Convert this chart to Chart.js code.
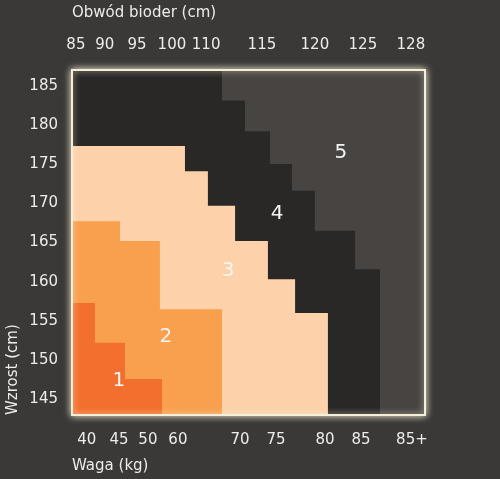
<!DOCTYPE html>
<html>
<head>
<meta charset="utf-8">
<script src="https://cdn.jsdelivr.net/npm/chart.js@4.4.1/dist/chart.umd.min.js"></script>
<style>
  html, body { margin: 0; padding: 0; background: #3b3938; }
  #wrap { width: 500px; height: 479px; }
</style>
</head>
<body>
<div id="wrap"><canvas id="myChart"></canvas></div>
<script>
// top axis: hip circumference, bottom axis: weight (positions on a 0-100 board)
var hipLabels = ['85', '90', '95', '100', '110', '115', '120', '125', '128'];
var hipPos = [1.1, 9.3, 18.4, 28.3, 38, 53.8, 68.8, 82.4, 96];
var weightLabels = ['40', '45', '50', '60', '70', '75', '80', '85', '85+'];
var weightPos = [4.2, 13.3, 21.5, 30, 47.6, 57.8, 71.7, 81.9, 96.3];
var heightTicks = [145, 150, 155, 160, 165, 170, 175, 180, 185];

// stepped upper edges of each zone: [position, height cm]
var zone4 = [[0, 187], [42.5, 183.1], [49, 179.2], [56.1, 175], [62.3, 171.6], [68.8, 166.5], [80.2, 161.6], [87.3, 143]];
var zone3 = [[0, 177.3], [32, 174.1], [38.5, 169.7], [46.2, 165.2], [55.5, 160.3], [63.2, 156], [72.5, 143]];
var zone2 = [[0, 167.7], [13.6, 165.2], [24.9, 156.5], [42.5, 143]];
var zone1 = [[0, 157.3], [6.5, 152.2], [15, 147.6], [25.5, 143]];
var zoneNames = ['1', '2', '3', '4', '5'];
var namePos = [[13.3, 147.4], [26.6, 153.0], [44.2, 161.4], [58.1, 168.6], [76.2, 176.4]];

var txt = '#ececec';
var font = { family: 'DejaVu Sans', size: 15 };

function zone(pts, color, order) {
  return {
    data: pts.map(function(p) { return { x: p[0], y: p[1] }; }),
    stepped: 'before',
    fill: 'start',
    order: order,
    backgroundColor: color,
    borderWidth: 0,
    pointRadius: 0
  };
}

var bgPlugin = {
  id: 'bg',
  beforeDatasetsDraw: function(chart) {
    var a = chart.chartArea, c = chart.ctx;
    c.save();
    c.shadowColor = 'rgba(255,250,220,0.9)';
    c.shadowBlur = 8;
    c.fillStyle = '#474442';
    c.fillRect(a.left, a.top, a.right - a.left, a.bottom - a.top);
    c.restore();
  },
  afterDatasetsDraw: function(chart) {
    var a = chart.chartArea, c = chart.ctx;
    c.save();
    c.strokeStyle = '#f4efd8';
    c.lineWidth = 2;
    c.shadowColor = 'rgba(255,250,220,0.8)';
    c.shadowBlur = 6;
    c.strokeRect(a.left, a.top, a.right - a.left, a.bottom - a.top);
    c.shadowBlur = 0;
    c.fillStyle = '#f4f4f4';
    c.font = '20px DejaVu Sans';
    c.textAlign = 'center';
    c.textBaseline = 'middle';
    var xs = chart.scales.x, ys = chart.scales.y;
    zoneNames.forEach(function(n, i) {
      c.fillText(n, xs.getPixelForValue(namePos[i][0]), ys.getPixelForValue(namePos[i][1]));
    });
    c.restore();
  }
};

new Chart(document.getElementById('myChart').getContext('2d'), {
  type: 'line',
  data: {
    datasets: [zone(zone4, '#2a2827', 4), zone(zone3, '#fdd1aa', 3), zone(zone2, '#f9a04f', 2), zone(zone1, '#f26f2e', 1)]
  },
  options: {
    responsive: true,
    maintainAspectRatio: false,
    animation: false,
    layout: { padding: { left: 0, right: 75, top: 0, bottom: 0 } },
    plugins: { legend: false, tooltip: false },
    scales: {
      x: {
        type: 'linear', min: 0, max: 100, position: 'bottom',
        grid: { display: false }, border: { display: false },
        afterBuildTicks: function(ax) { ax.ticks = weightPos.map(function(v) { return { value: v }; }); },
        afterFit: function(ax) { ax.height = 64; },
        ticks: { color: txt, font: font, autoSkip: false, maxRotation: 0, padding: 8,
          callback: function(v, i) { return weightLabels[i]; } },
        title: { display: true, text: 'Waga (kg)', color: txt, font: font, align: 'start', padding: { top: 6 } }
      },
      x2: {
        type: 'linear', min: 0, max: 100, position: 'top',
        grid: { display: false }, border: { display: false },
        afterBuildTicks: function(ax) { ax.ticks = hipPos.map(function(v) { return { value: v }; }); },
        afterFit: function(ax) { ax.height = 70; },
        ticks: { color: txt, font: font, autoSkip: false, maxRotation: 0, padding: 8,
          callback: function(v, i) { return hipLabels[i]; } },
        title: { display: true, text: 'Obwód bioder (cm)', color: txt, font: font, align: 'start', padding: { bottom: 6 } }
      },
      y: {
        type: 'linear', min: 143, max: 187,
        grid: { display: false }, border: { display: false },
        afterBuildTicks: function(ax) { ax.ticks = heightTicks.map(function(v) { return { value: v }; }); },
        afterFit: function(ax) { ax.width = 72; },
        ticks: { color: txt, font: font, padding: 6 },
        title: { display: true, text: 'Wzrost (cm)', color: txt, font: font, align: 'start' }
      }
    }
  },
  plugins: [bgPlugin]
});
</script>
</body>
</html>
